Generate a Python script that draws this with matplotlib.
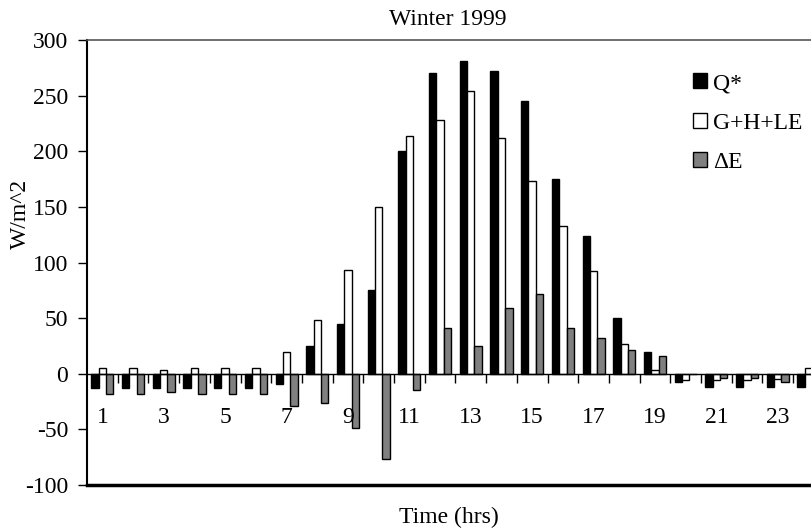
import numpy as np
import matplotlib
matplotlib.use("Agg")
import matplotlib.pyplot as plt

plt.rcParams['font.family'] = ['Liberation Serif', 'DejaVu Serif']
plt.rcParams['axes.unicode_minus'] = False

# hourly energy balance terms, winter 1999
hours = list(range(1, 25))
q_star = [-13, -13, -13, -13, -13, -13, -9, 25, 45, 75, 200, 270,
          281, 272, 245, 175, 124, 50, 20, -7, -12, -12, -12, -12]
ghle = [5, 5, 3, 5, 5, 5, 20, 48, 93, 150, 214, 228,
        254, 212, 173, 133, 92, 27, 3, -6, -6, -6, -5, 5]
delta_e = [-18, -18, -16, -18, -18, -18, -29, -26, -49, -77, -15, 41,
           25, 59, 72, 41, 32, 21, 16, 0, -4, -4, -7, -17]
tick_labels = [str(h) if h % 2 == 1 else '' for h in hours]

fs = 17
fig = plt.figure(figsize=(8.11, 5.32), dpi=100)
ax = fig.add_axes([0.1073, 0.0883, 0.9085, 0.8365])

x = np.array(hours)
w = 0.24
lw = 1.0
ax.bar(x - w, q_star, w, color='black', edgecolor='black', linewidth=lw, label='Q*')
ax.bar(x, ghle, w, color='white', edgecolor='black', linewidth=lw, label='G+H+LE')
ax.bar(x + w, delta_e, w, color='#808080', edgecolor='black', linewidth=lw, label='ΔE')

ax.set_xlim(0.5, 24.5)
ax.set_ylim(-100, 300)
ax.set_yticks(np.arange(-100, 301, 50))

# category axis sits on the zero line, frame bottom drawn separately
ax.spines['bottom'].set_position(('data', 0))
ax.spines['bottom'].set_linewidth(1.0)
ax.spines['left'].set_linewidth(1.5)
ax.spines['top'].set_linewidth(1.2)
ax.spines['top'].set_color('#555555')
ax.axhline(-100, color='black', linewidth=2.5, clip_on=False)

ax.set_xticks(np.arange(1.5, 24, 1))
ax.set_xticklabels([])
ax.set_xticks(x, minor=True)
ax.set_xticklabels(tick_labels, minor=True)
ax.tick_params(axis='x', which='major', direction='out', length=6.5, width=1)
ax.tick_params(axis='x', which='minor', length=0, pad=24, labelsize=fs)
ax.tick_params(axis='y', direction='out', length=6.5, width=1, labelsize=fs, pad=7)

ax.set_title('Winter 1999', fontsize=fs, pad=11, x=0.489)
ax.set_ylabel('W/m^2', fontsize=fs)
ax.yaxis.set_label_coords(-0.076, 0.609)
fig.text(0.553, 0.028, 'Time (hrs)', ha='center', va='center', fontsize=fs)

ax.legend(loc='upper left', bbox_to_anchor=(0.843, 0.88), bbox_transform=fig.transFigure,
          frameon=False, fontsize=fs, handlelength=0.6, handleheight=0.6,
          handletextpad=0.25, labelspacing=0.78, borderaxespad=0)

fig.savefig('out.png', dpi=100)
